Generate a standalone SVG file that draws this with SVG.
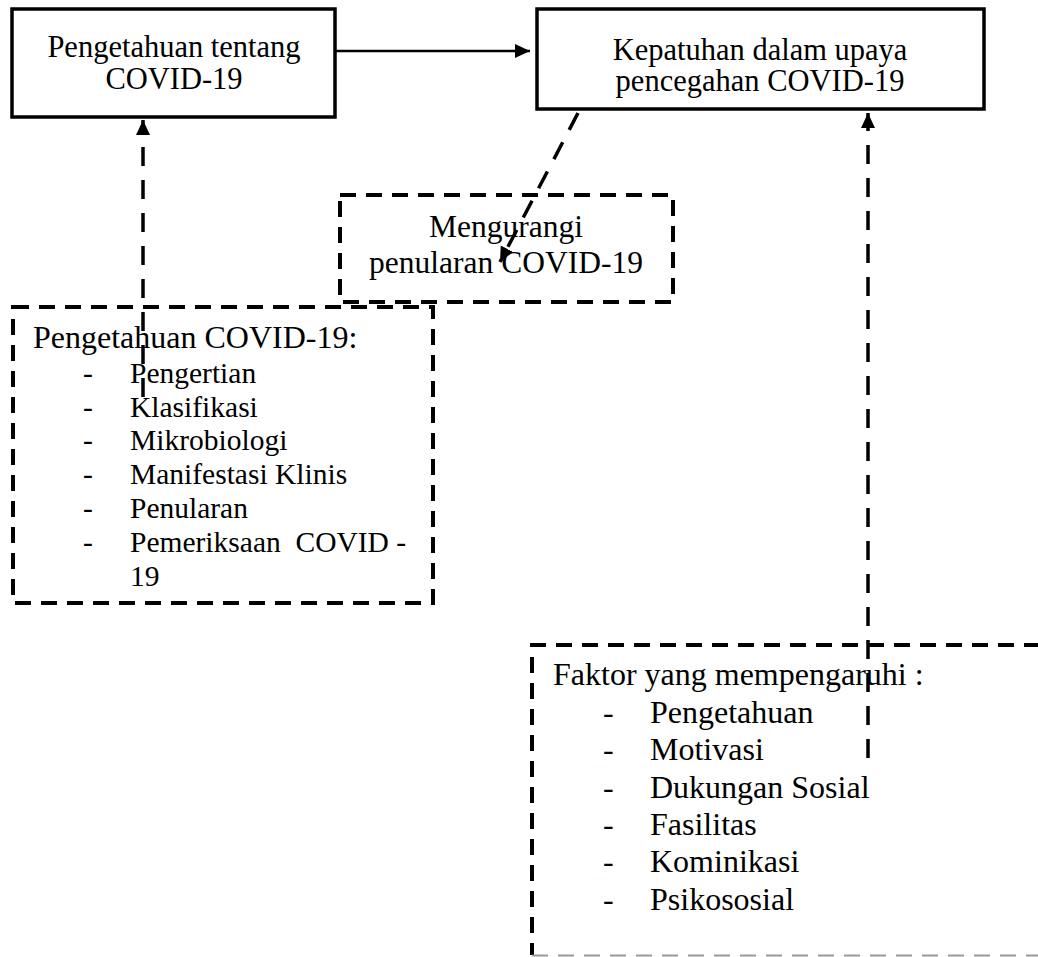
<svg xmlns="http://www.w3.org/2000/svg" width="1038" height="957" viewBox="0 0 1038 957">
<style>
.solid{fill:none;stroke:#000;stroke-width:3.5}
.dash{fill:none;stroke:#000;stroke-width:4;stroke-dasharray:16 10}
.conn{fill:none;stroke:#000;stroke-width:2.5}
.cdash{fill:none;stroke:#000;stroke-width:3.5;stroke-dasharray:19 14}
text{font-family:"Liberation Serif","Times New Roman",serif;font-size:30.5px;fill:#000}
.c{text-anchor:middle}
.big{font-size:32px}
.mid{font-size:31.5px}
.sm{font-size:29.5px}
</style>
<defs>
<marker id="ah" markerUnits="userSpaceOnUse" markerWidth="16" markerHeight="16" refX="15" refY="7" orient="auto" viewBox="0 0 16 14">
<polygon points="0,0 15,7 0,14" fill="#000"/>
</marker>
</defs>
<rect width="1038" height="957" fill="#fff"/>
<g id="node-pengetahuan">
<rect class="solid" x="12" y="9" width="323" height="108"/>
<text class="c" x="174" y="57">Pengetahuan tentang</text>
<text class="c" x="174" y="89">COVID-19</text>
</g>
<g id="node-kepatuhan">
<rect class="solid" x="537" y="9" width="447" height="100"/>
<text class="c" x="760" y="60">Kepatuhan dalam upaya</text>
<text class="c" x="760" y="91">pencegahan COVID-19</text>
</g>
<g id="node-mengurangi">
<rect class="dash" x="340" y="195" width="333" height="107"/>
<text class="c mid" x="506" y="237">Mengurangi</text>
<text class="c mid" x="506" y="273">penularan COVID-19</text>
</g>
<g id="node-pengetahuan-list">
<rect class="dash" x="13" y="307" width="420" height="296"/>
<text class="big" x="33" y="348">Pengetahuan COVID-19:</text>
<g class="sm">
<text class="sm" x="83" y="383">-</text><text class="sm" x="130" y="383">Pengertian</text>
<text class="sm" x="83" y="417">-</text><text class="sm" x="130" y="417">Klasifikasi</text>
<text class="sm" x="83" y="450">-</text><text class="sm" x="130" y="450">Mikrobiologi</text>
<text class="sm" x="83" y="484">-</text><text class="sm" x="130" y="484">Manifestasi Klinis</text>
<text class="sm" x="83" y="518">-</text><text class="sm" x="130" y="518">Penularan</text>
<text class="sm" x="83" y="552">-</text><text class="sm" x="130" y="552" xml:space="preserve">Pemeriksaan  COVID -</text>
<text class="sm" x="130" y="586">19</text>
</g>
</g>
<g id="node-faktor">
<path class="dash" d="M1040,645 H532 V955"/>
<path d="M532,955.5 H1040" fill="none" stroke="#999" stroke-width="2" stroke-dasharray="16 10"/>
<text class="big" x="553" y="685">Faktor yang mempengaruhi :</text>
<text class="big" x="603" y="723">-</text><text class="big" x="650" y="723">Pengetahuan</text>
<text class="big" x="603" y="760">-</text><text class="big" x="650" y="760">Motivasi</text>
<text class="big" x="603" y="798">-</text><text class="big" x="650" y="798">Dukungan Sosial</text>
<text class="big" x="603" y="835">-</text><text class="big" x="650" y="835">Fasilitas</text>
<text class="big" x="603" y="872">-</text><text class="big" x="650" y="872">Kominikasi</text>
<text class="big" x="603" y="910">-</text><text class="big" x="650" y="910">Psikososial</text>
</g>
<g id="connectors">
<path class="conn" d="M335,51 H530" marker-end="url(#ah)"/>
<path class="cdash" d="M143,397 V120" marker-end="url(#ah)"/>
<path class="cdash" d="M868,758 V113" marker-end="url(#ah)"/>
<path class="cdash" d="M578,113 L500,262" marker-end="url(#ah)"/>
</g>
</svg>
